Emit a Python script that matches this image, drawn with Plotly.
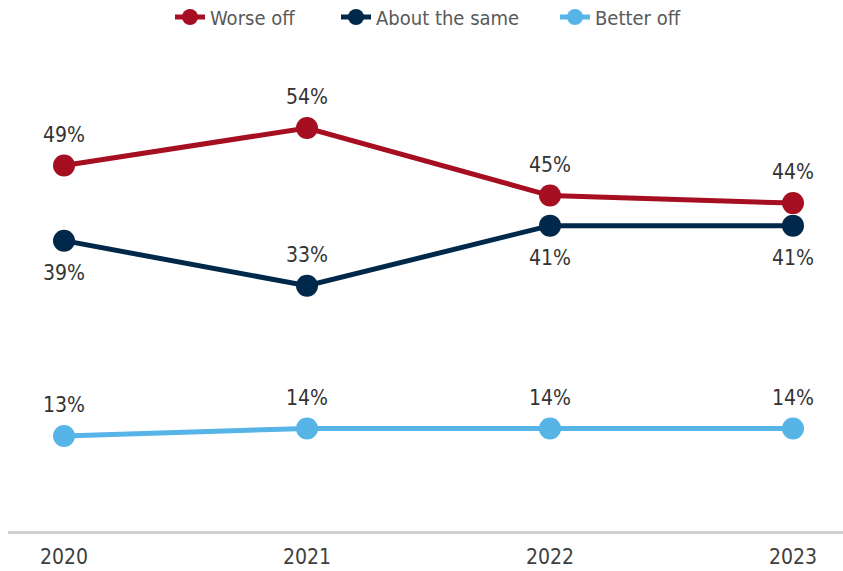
import plotly.graph_objects as go

years = ["2020", "2021", "2022", "2023"]
worse_off = [49, 54, 45, 44]
about_same = [39, 33, 41, 41]
better_off = [13, 14, 14, 14]

# name, values, colour, label side per point, legend key, legend x (px)
series = [
    ("Worse off", worse_off, "#A50F21", ["top center"] * 4, "legend", 170),
    ("About the same", about_same, "#00284A",
     ["bottom center", "top center", "bottom center", "bottom center"], "legend2", 336),
    ("Better off", better_off, "#56B4E6", ["top center"] * 4, "legend3", 555),
]

FONT = "DejaVu Sans Condensed, Liberation Sans Narrow, Arial Narrow, sans-serif"
W, H = 843, 571
L, T, B = 8, 60, 40
PW, PH = W - L, H - T - B

fig = go.Figure()
for name, vals, color, pos, leg, lx in series:
    fig.add_trace(go.Scatter(
        x=years, y=vals, name=name,
        mode="lines+markers",
        line=dict(color=color, width=5),
        marker=dict(color=color, size=22),
        legend=leg,
        cliponaxis=False,
        hoverinfo="skip",
    ))
for name, vals, color, pos, leg, lx in series:
    # value labels, spaced away from the points by a transparent larger marker
    fig.add_trace(go.Scatter(
        x=years, y=vals, name=name,
        mode="markers+text",
        marker=dict(color=color, opacity=0,
                    size=[28 if p.startswith("top") else 36 for p in pos]),
        text=[f"{v}%" for v in vals],
        textposition=pos,
        textfont=dict(family=FONT, size=21, color="#333333"),
        legend=leg, showlegend=False,
        cliponaxis=False,
    ))

legend_style = dict(orientation="h", y=(H - B - 17) / PH, yanchor="middle", xanchor="left",
                    font=dict(family=FONT, size=20, color="#595959"),
                    bgcolor="rgba(0,0,0,0)", itemwidth=30)

fig.update_layout(
    width=W, height=H,
    margin=dict(l=L, r=0, t=T, b=B, autoexpand=False),
    plot_bgcolor="white", paper_bgcolor="white",
    font=dict(family=FONT, size=21, color="#595959"),
    showlegend=True,
    legend=dict(legend_style, x=(series[0][5] - L) / PW),
    legend2=dict(legend_style, x=(series[1][5] - L) / PW),
    legend3=dict(legend_style, x=(series[2][5] - L) / PW),
    xaxis=dict(type="category", range=[-0.2305, 3.2058], showgrid=False,
               showline=True, linecolor="#D0D0D0", linewidth=3,
               ticks="outside", ticklen=5, tickcolor="rgba(0,0,0,0)",
               automargin=False,
               tickfont=dict(family=FONT, size=21, color="#404040")),
    yaxis=dict(range=[0.35, 63.05], showgrid=False, showticklabels=False,
               zeroline=False, showline=False, automargin=False),
)

fig.write_html("out.html")
